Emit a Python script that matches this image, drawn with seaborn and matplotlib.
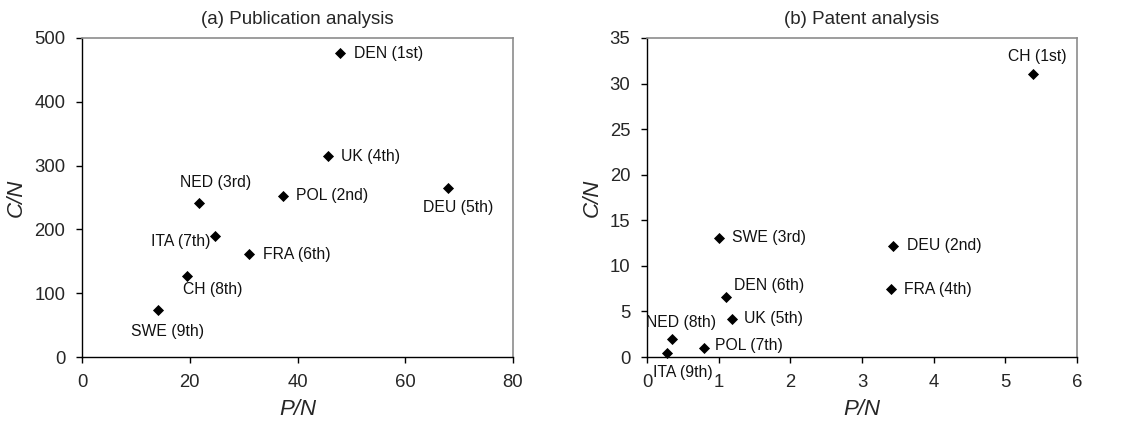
import matplotlib
matplotlib.use("Agg")
import matplotlib.pyplot as plt
import seaborn as sns
import pandas as pd

# (a) Publication analysis
pub_countries = ["DEN", "UK", "DEU", "POL", "NED", "ITA", "FRA", "CH", "SWE"]
pub_ranks = ["1st", "4th", "5th", "2nd", "3rd", "7th", "6th", "8th", "9th"]
pub_pn = [47.9, 45.7, 67.9, 37.4, 21.8, 24.7, 31.0, 19.5, 14.1]
pub_cn = [476, 315, 265, 252, 242, 190, 161, 127, 73]

# (b) Patent analysis
pat_countries = ["CH", "SWE", "DEU", "FRA", "DEN", "UK", "NED", "POL", "ITA"]
pat_ranks = ["1st", "3rd", "2nd", "4th", "6th", "5th", "8th", "7th", "9th"]
pat_pn = [5.38, 1.00, 3.43, 3.40, 1.10, 1.18, 0.35, 0.80, 0.28]
pat_cn = [31.0, 13.1, 12.2, 7.45, 6.6, 4.2, 2.0, 0.95, 0.4]

# label placement: (dx, dy) in pixels, horizontal alignment
pub_offsets = {
    "DEN": (14, 0, "left"), "UK": (13, 0, "left"), "DEU": (10, -20, "center"),
    "POL": (13, 1, "left"), "NED": (16, 20, "center"), "ITA": (-5, -6, "right"),
    "FRA": (14, 0, "left"), "CH": (26, -14, "center"), "SWE": (10, -21, "center"),
}
pat_offsets = {
    "CH": (5, 18, "center"), "SWE": (13, 0, "left"), "DEU": (14, 0, "left"),
    "FRA": (13, 0, "left"), "DEN": (43, 11, "center"), "UK": (12, 0, "left"),
    "NED": (9, 16, "center"), "POL": (11, 3, "left"), "ITA": (16, -19, "center"),
}

sns.set_theme(style="white")
plt.rcParams["font.family"] = ["Liberation Sans", "DejaVu Sans"]

fig = plt.figure(figsize=(11.25, 4.26), dpi=100)
ax1 = fig.add_axes([82 / 1125, 69 / 426, 431 / 1125, 319 / 426])
ax2 = fig.add_axes([647 / 1125, 69 / 426, 430 / 1125, 319 / 426])

px = 0.72  # pixels -> points


def draw(ax, countries, ranks, pn, cn, offsets, title, xlim, ylim, xticks, yticks):
    df = pd.DataFrame({"country": countries, "rank": ranks, "PN": pn, "CN": cn})
    sns.scatterplot(data=df, x="PN", y="CN", ax=ax, marker="D", color="black",
                    s=32, edgecolor="black", linewidth=0, legend=False, clip_on=False, zorder=3)
    for _, r in df.iterrows():
        dx, dy, ha = offsets[r["country"]]
        ax.annotate(f"{r['country']} ({r['rank']})", (r["PN"], r["CN"]),
                    xytext=(dx * px, dy * px), textcoords="offset points",
                    ha=ha, va="center", fontsize=11.3, color="#111111",
                    annotation_clip=False)
    ax.set_xlim(*xlim)
    ax.set_ylim(*ylim)
    ax.set_xticks(xticks)
    ax.set_yticks(yticks)
    ax.set_title(title, fontsize=13.5, pad=10)
    ax.set_xlabel("P/N", fontsize=16, fontstyle="italic", labelpad=6)
    ax.set_ylabel("C/N", fontsize=16, fontstyle="italic", labelpad=5)
    ax.tick_params(axis="both", which="both", direction="out", length=4, width=1,
                   color="black", labelsize=13.3, bottom=True, left=True, pad=8)
    for side in ["left", "bottom"]:
        ax.spines[side].set_color("black")
        ax.spines[side].set_linewidth(1)
    for side in ["top", "right"]:
        ax.spines[side].set_color("#8c8c8c")
        ax.spines[side].set_linewidth(1.2)


draw(ax1, pub_countries, pub_ranks, pub_pn, pub_cn, pub_offsets,
     "(a) Publication analysis", (0, 80), (0, 500), [0, 20, 40, 60, 80],
     [0, 100, 200, 300, 400, 500])
draw(ax2, pat_countries, pat_ranks, pat_pn, pat_cn, pat_offsets,
     "(b) Patent analysis", (0, 6), (0, 35), [0, 1, 2, 3, 4, 5, 6],
     [0, 5, 10, 15, 20, 25, 30, 35])

fig.savefig("out.png", dpi=100, facecolor="white")
